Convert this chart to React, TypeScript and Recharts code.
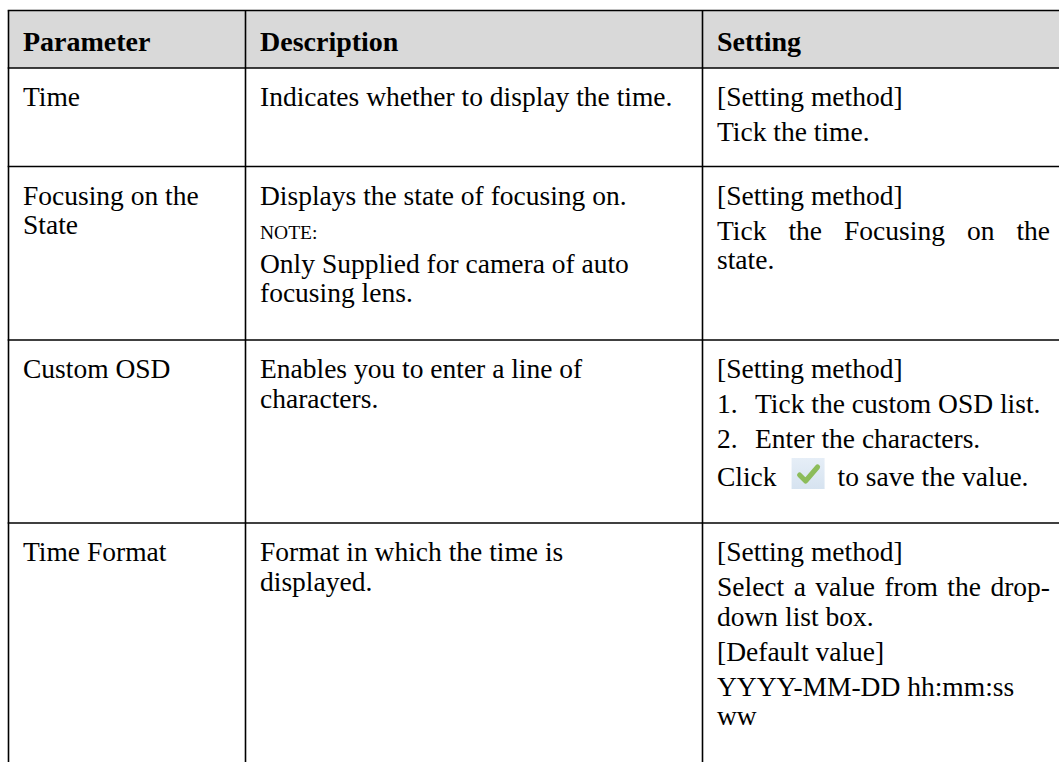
import React from "react";
import { Surface, Layer, Rectangle, Text } from "recharts";

// table content
const columnTitles = ["Parameter", "Description", "Setting"];

const parameterCells = ["Time", "Focusing on the\nState", "Custom OSD", "Time Format"];

const descriptionCells = [
  ["Indicates whether to display the time."],
  ["Displays the state of focusing on.", "NOTE:", "Only Supplied for camera of auto\nfocusing lens."],
  ["Enables you to enter a line of\ncharacters."],
  ["Format in which the time is\ndisplayed."],
];

const settingCells = [
  ["[Setting method]", "Tick the time."],
  ["[Setting method]", "Tick the Focusing on the\nstate."],
  ["[Setting method]", "1.\tTick the custom OSD list.", "2.\tEnter the characters.", "Click {ok} to save the value."],
  ["[Setting method]", "Select a value from the drop-\ndown list box.", "[Default value]", "YYYY-MM-DD hh:mm:ss\nww"],
];

// lines set full-width (justified) in the reference
const justifiedLines = ["Tick the Focusing on the", "Select a value from the drop-"];

const W = 1059;
const H = 762;
const FONT = "'Liberation Serif', 'Times New Roman', serif";
const SIZE = 27.5;
const NOTE_SIZE = 19.5;

const colX = [8.5, 245.5, 702.5, 1075];
const rowY = [10.5, 68, 166.5, 340, 523, 800];
const PAD = 14.5;
const FIRST = 38;
const PARA = 35;
const NOTE_STEP = 34;
const WRAP = 29.5;
const JUSTIFY_RIGHT = 1050;

let ctx: CanvasRenderingContext2D | null = null;
function measure(text: string, size = SIZE) {
  if (!ctx) ctx = document.createElement("canvas").getContext("2d");
  if (!ctx) return text.length * size * 0.45;
  ctx.font = `${size}px 'Liberation Serif'`;
  return ctx.measureText(text).width;
}

function CheckIcon({ x, y }: { x: number; y: number }) {
  return (
    <Layer>
      <defs>
        <linearGradient id="okbg" x1="0" y1="0" x2="0" y2="1">
          <stop offset="0%" stopColor="#e6eef7" />
          <stop offset="100%" stopColor="#d6e3f0" />
        </linearGradient>
      </defs>
      <Rectangle x={x} y={y} width={33} height={31} fill="url(#okbg)" />
      <path
        d={`M${x + 8},${y + 17} L${x + 14},${y + 23} L${x + 26},${y + 9}`}
        fill="none"
        stroke="#8cbc5a"
        strokeWidth={5}
        strokeLinecap="round"
        strokeLinejoin="round"
      />
    </Layer>
  );
}

function Cell({ paragraphs, col, row }: { paragraphs: string[]; col: number; row: number }) {
  const x = colX[col] + PAD;
  let y = rowY[row] + FIRST;
  const out: React.ReactNode[] = [];
  paragraphs.forEach((para, pi) => {
    const isNote = para === "NOTE:";
    if (pi > 0) y += isNote || paragraphs[pi - 1] === "NOTE:" ? NOTE_STEP : PARA;
    if (para.includes("{ok}")) y += 3;
    const lines = para.split("\n");
    lines.forEach((line, li) => {
      if (li > 0) y += WRAP;
      const key = `${pi}-${li}`;
      const size = isNote ? NOTE_SIZE : SIZE;
      if (line.includes("\t")) {
        const [num, rest] = line.split("\t");
        out.push(
          <Text key={key + "n"} x={x} y={y} fontFamily={FONT} fontSize={size} fill="#000">{num}</Text>,
          <Text key={key + "t"} x={x + 38} y={y} fontFamily={FONT} fontSize={size} fill="#000">{rest}</Text>
        );
      } else if (line.includes("{ok}")) {
        const [before, after] = line.split("{ok}").map((s) => s.trim());
        const bw = measure(before);
        out.push(
          <Text key={key + "b"} x={x} y={y} fontFamily={FONT} fontSize={size} fill="#000">{before}</Text>,
          <CheckIcon key={key + "i"} x={x + bw + 15} y={y - 28} />,
          <Text key={key + "a"} x={x + bw + 61} y={y} fontFamily={FONT} fontSize={size} fill="#000">{after}</Text>
        );
      } else {
        let ws = 0;
        if (justifiedLines.includes(line)) {
          const gaps = line.split(" ").length - 1;
          if (gaps > 0) ws = (JUSTIFY_RIGHT - x - measure(line)) / gaps;
        }
        out.push(
          <Text
            key={key}
            x={x}
            y={y}
            fontFamily={FONT}
            fontSize={size}
            fill="#000"
            wordSpacing={ws}
            style={{ wordSpacing: `${ws}px` }}
          >
            {line}
          </Text>
        );
      }
    });
  });
  return <Layer>{out}</Layer>;
}

export default function App() {
  return (
    <div style={{ position: "absolute", left: 0, top: 0, width: W, height: H, background: "#fff" }}>
      <Surface width={W} height={H}>
        <Rectangle x={colX[0]} y={rowY[0]} width={colX[3] - colX[0]} height={rowY[1] - rowY[0]} fill="#d9d9d9" />
        {columnTitles.map((t, i) => (
          <Text key={t} x={colX[i] + PAD} y={51} fontFamily={FONT} fontSize={28} fontWeight="bold" fill="#000">
            {t}
          </Text>
        ))}
        {parameterCells.map((p, r) => (
          <Cell key={"p" + r} paragraphs={[p]} col={0} row={r + 1} />
        ))}
        {descriptionCells.map((p, r) => (
          <Cell key={"d" + r} paragraphs={p} col={1} row={r + 1} />
        ))}
        {settingCells.map((p, r) => (
          <Cell key={"s" + r} paragraphs={p} col={2} row={r + 1} />
        ))}
        {rowY.slice(0, 5).map((y) => (
          <line key={"h" + y} x1={colX[0] - 0.8} x2={W} y1={y} y2={y} stroke="#000" strokeWidth={1.6} />
        ))}
        {colX.slice(0, 3).map((x) => (
          <line key={"v" + x} x1={x} x2={x} y1={rowY[0]} y2={H} stroke="#000" strokeWidth={1.6} />
        ))}
      </Surface>
    </div>
  );
}
